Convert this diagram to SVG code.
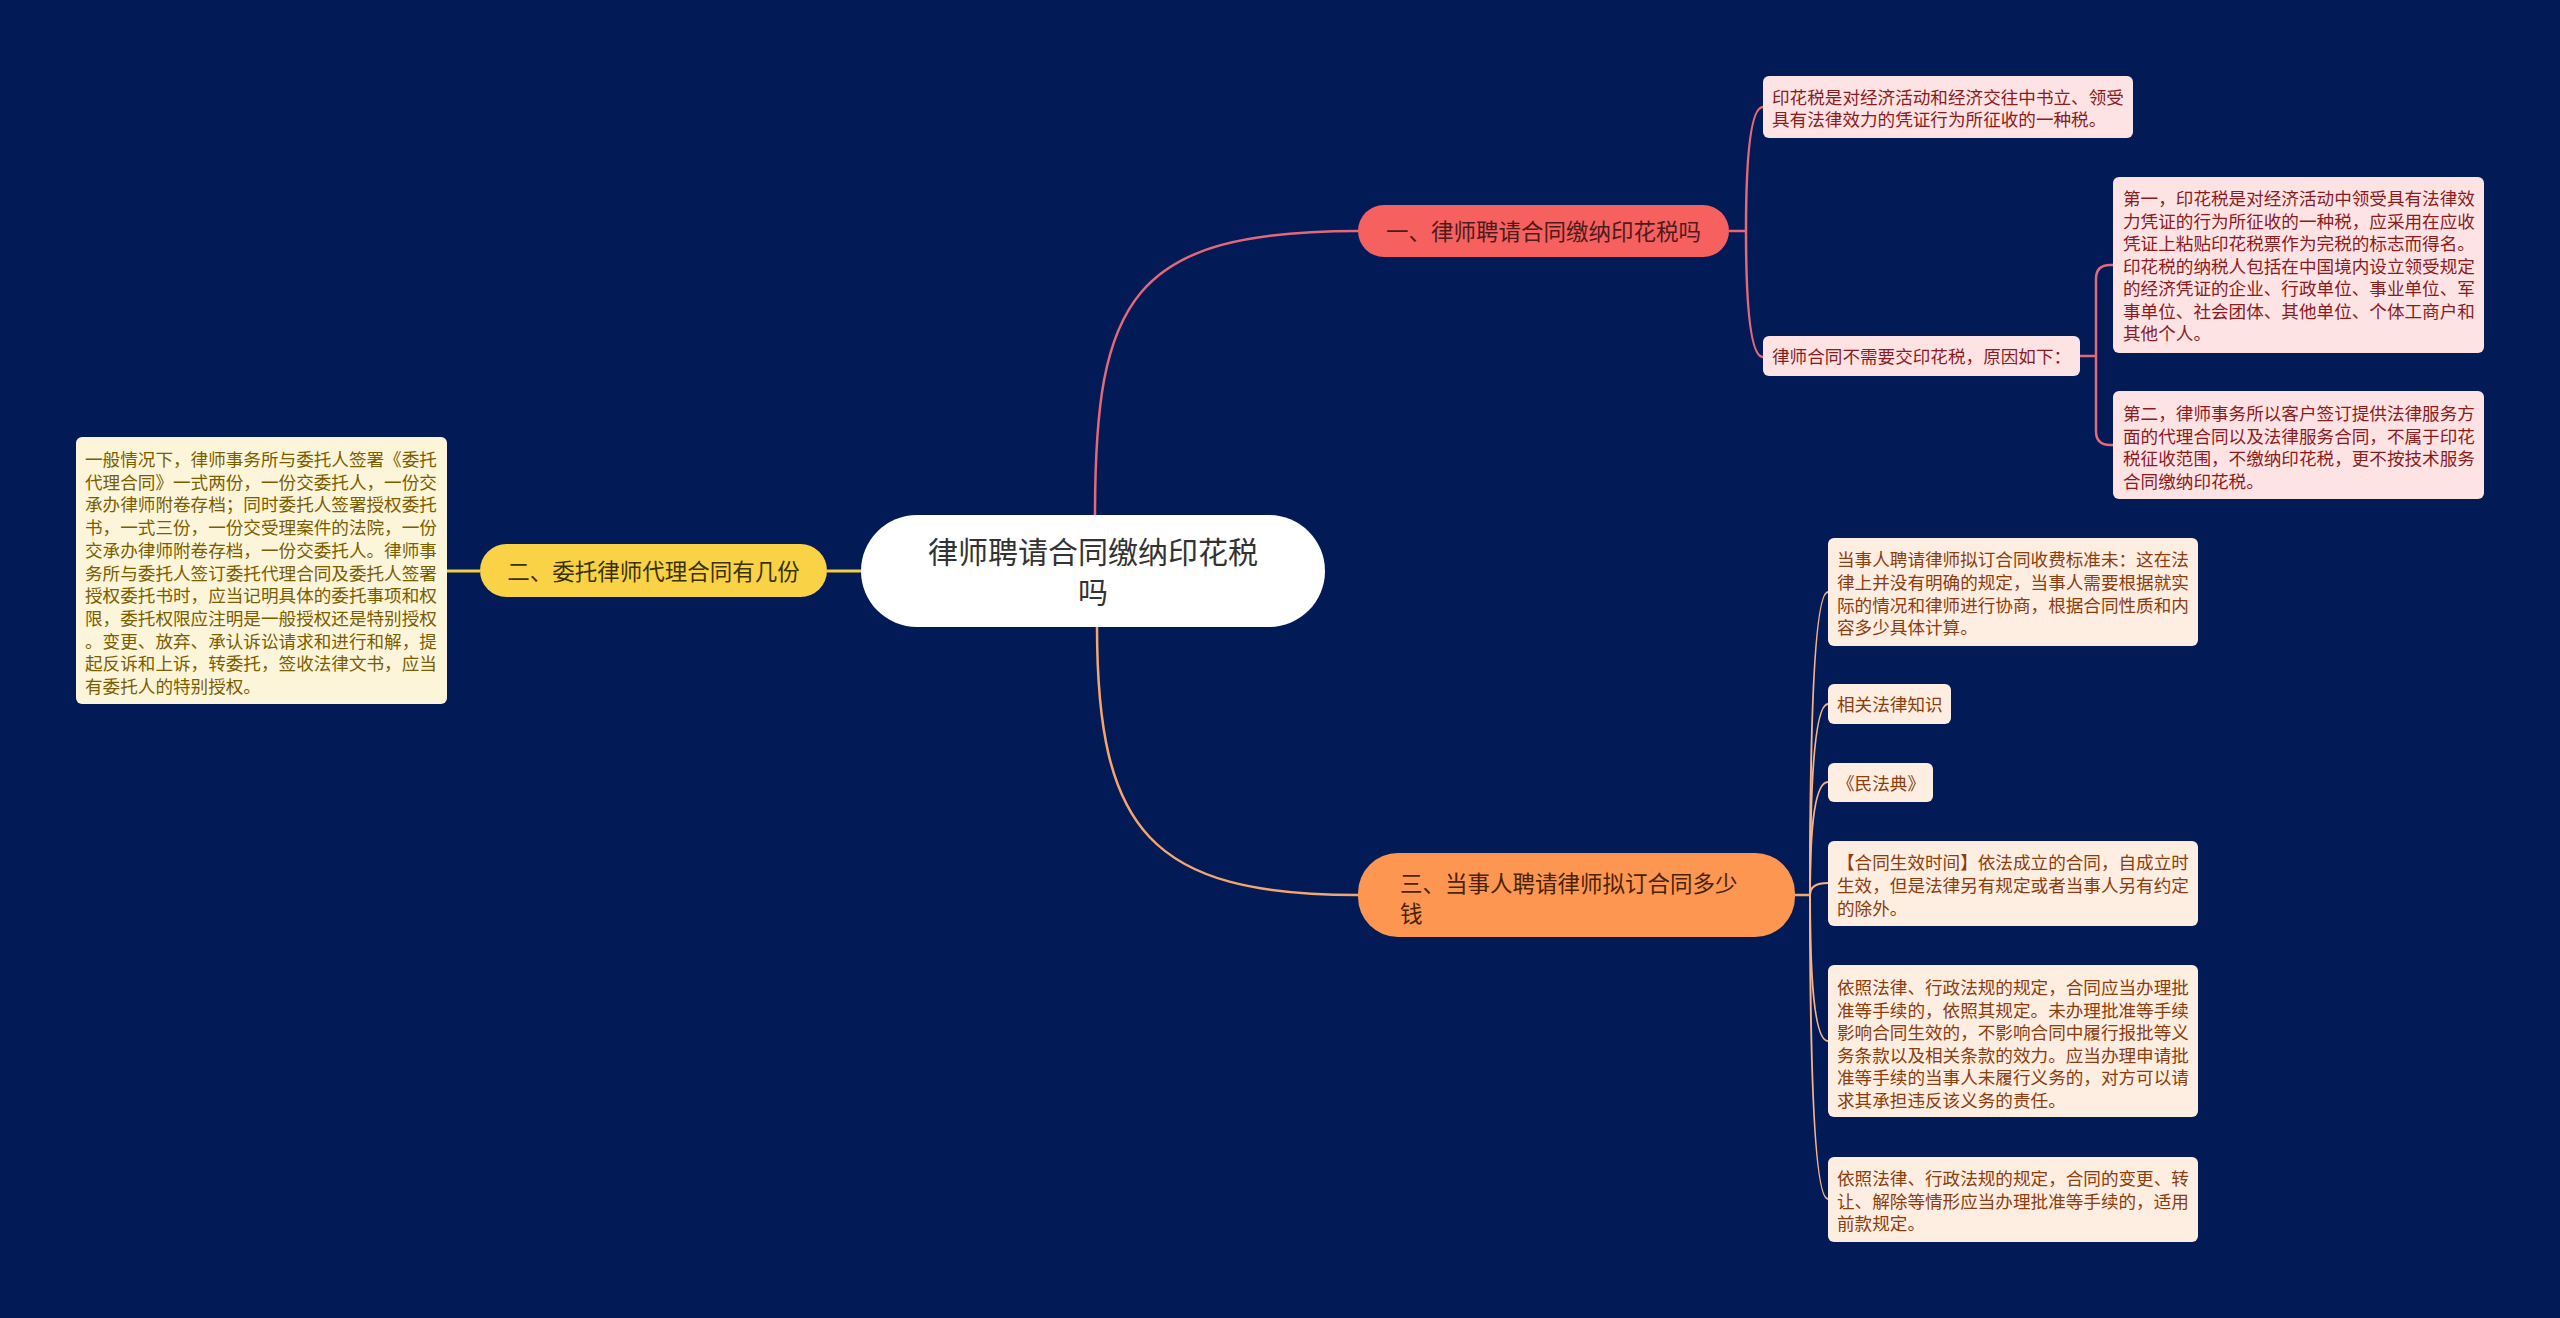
<svg xmlns="http://www.w3.org/2000/svg" width="2560" height="1318" viewBox="0 0 2560 1318">
<style>
text{font-family:"Noto Sans CJK SC","Noto Sans",sans-serif;}
.c1{fill:none;stroke:#e2687a;stroke-width:2.5;}
.c2{fill:none;stroke:#f1cf41;stroke-width:3;}
.c3{fill:none;stroke:#f5a66f;stroke-width:2.5;}
.c3s{fill:none;stroke:#f6b48a;stroke-width:2;}
.root{fill:#ffffff;}
.rt{font-size:30px;fill:#333333;text-anchor:middle;}
.n1{fill:#f6615f;}
.n1t{font-size:22.5px;fill:#4f1a1c;text-anchor:middle;}
.n2{fill:#f9d245;}
.n2t{font-size:22.5px;fill:#3a3100;text-anchor:middle;}
.n3{fill:#fd9651;}
.n3t{font-size:22.5px;fill:#4a2306;}
.l1{fill:#fde3e4;}
.l1t{font-size:17.6px;fill:#8a1b1e;}
.l2{fill:#fdf5d9;}
.l2t{font-size:17.6px;fill:#7a5d00;}
.l3{fill:#feede1;}
.l3t{font-size:17.6px;fill:#8a3d0e;}
</style>
<rect x="0" y="0" width="2560" height="1318" fill="#021b57"/>

<g id="connectors">
  <path class="c1" d="M1095 516 C1095 300 1130 231 1358 231"/>
  <path class="c3" d="M1097 626 C1097 830 1150 895 1358 895"/>
  <path class="c2" d="M861 571 H827"/>
  <path class="c2" d="M480 571 H447"/>
  <path class="c1" d="M1729 231 H1746"/>
  <path class="c1" d="M1746 231 Q1746 107 1763 107"/>
  <path class="c1" d="M1746 231 Q1746 357 1763 357"/>
  <path class="c1" d="M2080 356 H2096"/>
  <path class="c1" d="M2096 356 V279 Q2096 265 2110 265 H2113"/>
  <path class="c1" d="M2096 356 V431 Q2096 445 2110 445 H2113"/>
  <path class="c3" d="M1795 895 H1810"/>
  <path class="c3s" d="M1810 895 Q1810 592 1828 592"/>
  <path class="c3s" d="M1810 895 Q1810 704 1828 704"/>
  <path class="c3s" d="M1810 895 Q1810 782 1828 782"/>
  <path class="c3s" d="M1810 895 Q1810 883 1828 883"/>
  <path class="c3s" d="M1810 895 Q1810 1041 1828 1041"/>
  <path class="c3s" d="M1810 895 Q1810 1199 1828 1199"/>
</g>

<g id="root">
  <rect class="root" x="861" y="515" width="464" height="112" rx="56"/>
  <text class="rt" x="1093" y="563">律师聘请合同缴纳印花税</text>
  <text class="rt" x="1093" y="603">吗</text>
</g>

<g id="node1">
  <rect class="n1" x="1358" y="205" width="371" height="52" rx="26"/>
  <text class="n1t" x="1543.5" y="239.5">一、律师聘请合同缴纳印花税吗</text>
</g>

<g id="node2">
  <rect class="n2" x="480" y="544" width="347" height="53" rx="26.5"/>
  <text class="n2t" x="653.5" y="579.5">二、委托律师代理合同有几份</text>
</g>

<g id="node3">
  <rect class="n3" x="1358" y="853" width="437" height="84" rx="40"/>
  <text class="n3t" x="1400" y="891.5">三、当事人聘请律师拟订合同多少</text>
  <text class="n3t" x="1400" y="921.5">钱</text>
</g>

<g id="leaf1a">
  <rect class="l1" x="1763" y="76" width="370" height="62" rx="6"/>
  <text class="l1t" x="1772"><tspan x="1772" y="103.5">印花税是对经济活动和经济交往中书立、领受</tspan><tspan x="1772" y="125.5">具有法律效力的凭证行为所征收的一种税。</tspan></text>
</g>

<g id="leaf1mid">
  <rect class="l1" x="1763" y="336" width="317" height="40" rx="6"/>
  <text class="l1t" x="1772" y="363">律师合同不需要交印花税，原因如下：</text>
</g>

<g id="leaf1b">
  <rect class="l1" x="2113" y="177" width="371" height="176" rx="6"/>
  <text class="l1t"><tspan x="2123" y="205">第一，印花税是对经济活动中领受具有法律效</tspan><tspan x="2123" y="227.5">力凭证的行为所征收的一种税，应采用在应收</tspan><tspan x="2123" y="250">凭证上粘贴印花税票作为完税的标志而得名。</tspan><tspan x="2123" y="272.5">印花税的纳税人包括在中国境内设立领受规定</tspan><tspan x="2123" y="295">的经济凭证的企业、行政单位、事业单位、军</tspan><tspan x="2123" y="317.5">事单位、社会团体、其他单位、个体工商户和</tspan><tspan x="2123" y="340">其他个人。</tspan></text>
</g>

<g id="leaf1c">
  <rect class="l1" x="2113" y="391" width="371" height="108" rx="6"/>
  <text class="l1t"><tspan x="2123" y="420">第二，律师事务所以客户签订提供法律服务方</tspan><tspan x="2123" y="442.5">面的代理合同以及法律服务合同，不属于印花</tspan><tspan x="2123" y="465">税征收范围，不缴纳印花税，更不按技术服务</tspan><tspan x="2123" y="487.5">合同缴纳印花税。</tspan></text>
</g>

<g id="leaf2">
  <rect class="l2" x="76" y="437" width="371" height="267" rx="6"/>
  <text class="l2t"><tspan x="85" y="466">一般情况下，律师事务所与委托人签署《委托</tspan><tspan x="85" y="488.7">代理合同》一式两份，一份交委托人，一份交</tspan><tspan x="85" y="511.4">承办律师附卷存档；同时委托人签署授权委托</tspan><tspan x="85" y="534.1">书，一式三份，一份交受理案件的法院，一份</tspan><tspan x="85" y="556.8">交承办律师附卷存档，一份交委托人。律师事</tspan><tspan x="85" y="579.5">务所与委托人签订委托代理合同及委托人签署</tspan><tspan x="85" y="602.2">授权委托书时，应当记明具体的委托事项和权</tspan><tspan x="85" y="624.9">限，委托权限应注明是一般授权还是特别授权</tspan><tspan x="85" y="647.6">。变更、放弃、承认诉讼请求和进行和解，提</tspan><tspan x="85" y="670.3">起反诉和上诉，转委托，签收法律文书，应当</tspan><tspan x="85" y="693">有委托人的特别授权。</tspan></text>
</g>

<g id="leaf3a">
  <rect class="l3" x="1828" y="538" width="370" height="108" rx="6"/>
  <text class="l3t"><tspan x="1837" y="566">当事人聘请律师拟订合同收费标准未：这在法</tspan><tspan x="1837" y="588.8">律上并没有明确的规定，当事人需要根据就实</tspan><tspan x="1837" y="611.6">际的情况和律师进行协商，根据合同性质和内</tspan><tspan x="1837" y="634.4">容多少具体计算。</tspan></text>
</g>

<g id="leaf3b">
  <rect class="l3" x="1828" y="684" width="123" height="40" rx="6"/>
  <text class="l3t" x="1837" y="711">相关法律知识</text>
</g>

<g id="leaf3c">
  <rect class="l3" x="1828" y="763" width="105" height="39" rx="6"/>
  <text class="l3t" x="1837" y="789.5">《民法典》</text>
</g>

<g id="leaf3d">
  <rect class="l3" x="1828" y="841" width="370" height="85" rx="6"/>
  <text class="l3t"><tspan x="1837" y="869">【合同生效时间】依法成立的合同，自成立时</tspan><tspan x="1837" y="891.8">生效，但是法律另有规定或者当事人另有约定</tspan><tspan x="1837" y="914.6">的除外。</tspan></text>
</g>

<g id="leaf3e">
  <rect class="l3" x="1828" y="965" width="370" height="152" rx="6"/>
  <text class="l3t"><tspan x="1837" y="994">依照法律、行政法规的规定，合同应当办理批</tspan><tspan x="1837" y="1016.5">准等手续的，依照其规定。未办理批准等手续</tspan><tspan x="1837" y="1039">影响合同生效的，不影响合同中履行报批等义</tspan><tspan x="1837" y="1061.5">务条款以及相关条款的效力。应当办理申请批</tspan><tspan x="1837" y="1084">准等手续的当事人未履行义务的，对方可以请</tspan><tspan x="1837" y="1106.5">求其承担违反该义务的责任。</tspan></text>
</g>

<g id="leaf3f">
  <rect class="l3" x="1828" y="1157" width="370" height="85" rx="6"/>
  <text class="l3t"><tspan x="1837" y="1185">依照法律、行政法规的规定，合同的变更、转</tspan><tspan x="1837" y="1207.5">让、解除等情形应当办理批准等手续的，适用</tspan><tspan x="1837" y="1230">前款规定。</tspan></text>
</g>
</svg>
